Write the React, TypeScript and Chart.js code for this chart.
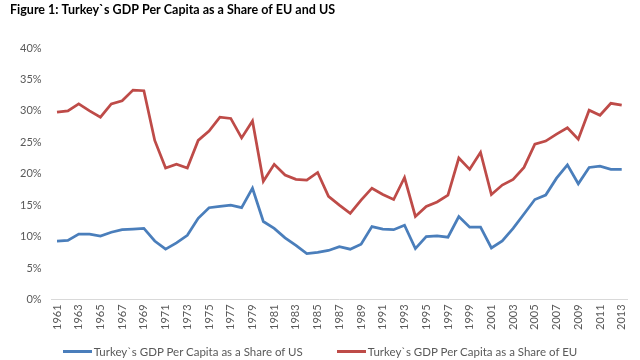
import React, { useEffect, useRef } from "react";
import { Chart, registerables } from "chart.js";

Chart.register(...registerables);

const years: string[] = [];
for (let y = 1961; y <= 2013; y++) years.push(String(y));

const shareOfUS = [
  9.3, 9.4, 10.4, 10.4, 10.1, 10.7, 11.1, 11.2, 11.3, 9.3,
  8.0, 9.0, 10.2, 12.9, 14.6, 14.8, 15.0, 14.6, 17.7, 12.4,
  11.3, 9.8, 8.6, 7.3, 7.5, 7.8, 8.4, 8.0, 8.8, 11.6,
  11.2, 11.1, 11.8, 8.1, 10.0, 10.1, 9.9, 13.2, 11.5, 11.5,
  8.2, 9.3, 11.3, 13.6, 15.9, 16.6, 19.3, 21.4, 18.4, 21.0,
  21.2, 20.7, 20.7,
];

const shareOfEU = [
  29.8, 30.0, 31.1, 30.0, 29.0, 31.1, 31.6, 33.3, 33.2, 25.3,
  20.9, 21.5, 20.9, 25.3, 26.8, 29.0, 28.8, 25.7, 28.4, 18.8,
  21.5, 19.8, 19.1, 19.0, 20.2, 16.4, 15.0, 13.7, 15.8, 17.7,
  16.7, 15.9, 19.4, 13.2, 14.8, 15.5, 16.6, 22.5, 20.7, 23.4,
  16.7, 18.2, 19.1, 21.0, 24.7, 25.2, 26.3, 27.3, 25.5, 30.1,
  29.3, 31.2, 30.9,
];

const seriesNames = [
  "Turkey`s GDP Per Capita as a Share of US",
  "Turkey`s GDP Per Capita as a Share of EU",
];
const seriesColors = ["#4A7EBB", "#BE4B48"];
const titleText = "Figure 1: Turkey`s GDP Per Capita as a Share of EU and US";

export default function App() {
  const ref = useRef<HTMLCanvasElement | null>(null);
  useEffect(() => {
    if (!ref.current) return;
    const chart = new Chart(ref.current, {
      type: "line",
      data: {
        labels: years,
        datasets: [
          {
            label: seriesNames[0],
            data: shareOfUS,
            borderColor: seriesColors[0],
            backgroundColor: seriesColors[0],
            borderWidth: 2.75,
            pointRadius: 0,
            tension: 0,
          },
          {
            label: seriesNames[1],
            data: shareOfEU,
            borderColor: seriesColors[1],
            backgroundColor: seriesColors[1],
            borderWidth: 2.75,
            pointRadius: 0,
            tension: 0,
          },
        ],
      },
      options: {
        responsive: false,
        animation: false,
        layout: { padding: { left: 10, right: 9, top: 0, bottom: 25 } },
        plugins: {
          title: {
            display: true,
            text: titleText,
            align: "start",
            color: "#000000",
            font: { family: "Lato", size: 12.5, weight: "bold" },
            padding: { top: 2, bottom: 31 },
          },
          legend: { display: false },
          tooltip: { enabled: false },
        },
        scales: {
          x: {
            offset: true,
            grid: { display: false, drawTicks: false },
            border: { display: true, color: "#D9D9D9", width: 1 },
            ticks: {
              autoSkip: false,
              maxRotation: 90,
              minRotation: 90,
              padding: 5,
              color: "#595959",
              font: { family: "Lato", size: 11 },
              callback: (_v: any, i: number) => (i % 2 === 0 ? years[i] : ""),
            },
          },
          y: {
            min: 0,
            max: 40,
            grid: { display: false, drawTicks: false },
            border: { display: false },
            ticks: {
              stepSize: 5,
              padding: 10,
              color: "#595959",
              font: { family: "Lato", size: 11 },
              callback: (v: any) => v + "%",
            },
          },
        },
      },
    });
    return () => chart.destroy();
  }, []);
  return (
    <div style={{ position: "fixed", left: 0, top: 0, width: 640, height: 360, background: "#fff" }}>
      <canvas ref={ref} width={640} height={360} style={{ display: "block" }} />
      <div
        style={{
          position: "absolute",
          left: 0,
          top: 343,
          width: 640,
          height: 16,
          display: "flex",
          justifyContent: "center",
          alignItems: "center",
          gap: 34,
          fontFamily: "Lato",
          fontSize: 11.5,
          color: "#595959",
          whiteSpace: "nowrap",
        }}
      >
        {seriesNames.map((name, i) => (
          <div key={name} style={{ display: "flex", alignItems: "center" }}>
            <span style={{ display: "inline-block", width: 29, height: 3, background: seriesColors[i], marginRight: 2 }} />
            <span>{name}</span>
          </div>
        ))}
      </div>
    </div>
  );
}
